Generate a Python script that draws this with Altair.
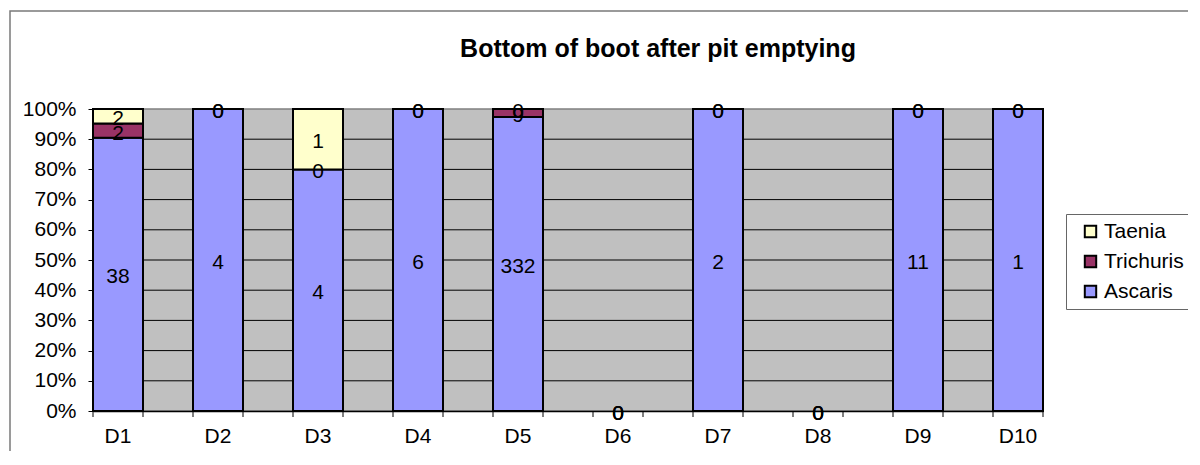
import altair as alt
import pandas as pd

categories = ["D1", "D2", "D3", "D4", "D5", "D6", "D7", "D8", "D9", "D10"]
ascaris = [38, 4, 4, 6, 332, 0, 2, 0, 11, 1]
trichuris = [2, 0, 0, 0, 9, 0, 0, 0, 0, 0]
taenia = [2, 0, 1, 0, 0, 0, 0, 0, 0, 0]
series_names = ["Ascaris", "Trichuris", "Taenia"]
series_colors = ["#9999FF", "#993366", "#FFFFCC"]
grid_values = [0.1, 0.2, 0.3, 0.4, 0.5, 0.6, 0.7, 0.8, 0.9]
y_ticks = [0, 0.1, 0.2, 0.3, 0.4, 0.5, 0.6, 0.7, 0.8, 0.9, 1.0]

FONT = "Liberation Sans"
FS = 21

rows = []
for i, cat in enumerate(categories):
    vals = [ascaris[i], trichuris[i], taenia[i]]
    total = sum(vals)
    cum = 0.0
    for name, v in zip(series_names, vals):
        p = v / total if total else 0.0
        y0 = cum
        y1 = cum + p
        rows.append({"cat": cat, "series": name, "value": v,
                     "y0": y0, "y1": y1, "mid": (y0 + y1) / 2})
        cum = y1
df = pd.DataFrame(rows)
grid_df = pd.DataFrame({"g": grid_values})
tick_df = pd.DataFrame({"cat": categories})
border_df = pd.DataFrame({"a": [0]})

xscale = alt.Scale(domain=categories, paddingInner=0.5, paddingOuter=0)
yscale = alt.Scale(domain=[0, 1], nice=False)

y_axis = alt.Axis(title=None, values=y_ticks, format=".0%", grid=False,
                  labelOverlap=False, tickCount=11,
                  tickSize=5, tickColor="#000000", labelFont=FONT,
                  labelFontSize=FS, labelColor="#000000", labelPadding=12,
                  domainColor="#000000", domainWidth=1.5)

legend_order = ["Taenia", "Trichuris", "Ascaris"]
color_scale = alt.Scale(domain=legend_order,
                        range=[series_colors[2], series_colors[1], series_colors[0]])

border = alt.Chart(border_df).mark_rect(
    fill=None, stroke="#7a7a7a", strokeWidth=1.5, clip=False
).encode(x=alt.value(-83), x2=alt.value(3000), y=alt.value(-98), y2=alt.value(3000))

grid = alt.Chart(grid_df).mark_rule(color="#000000", strokeWidth=1).encode(
    y=alt.Y("g:Q", scale=yscale, axis=y_axis)
)

bars = alt.Chart(df).transform_filter("datum.value > 0").mark_bar(
    stroke="#000000", strokeWidth=2
).encode(
    x=alt.X("cat:N", scale=xscale, sort=categories,
            axis=alt.Axis(title=None, ticks=False, tickSize=0, labelAngle=0,
                          labelFont=FONT, labelFontSize=FS, labelColor="#000000",
                          labelPadding=14, domainColor="#000000", domainWidth=1.5)),
    y=alt.Y("y0:Q", scale=yscale, axis=y_axis),
    y2="y1:Q",
    color=alt.Color("series:N", scale=color_scale,
                    legend=alt.Legend(title=None, orient="none", legendX=973, legendY=105,
                                      symbolType="square", symbolSize=130,
                                      symbolStrokeColor="#000000", symbolStrokeWidth=2,
                                      labelFont=FONT, labelFontSize=FS, labelColor="#000000",
                                      labelOffset=3, rowPadding=8,
                                      padding=7, strokeColor="#666666", fillColor="#FFFFFF",
                                      symbolOffset=7)),
)

ticks_start = alt.Chart(tick_df).mark_rule(color="#000000", strokeWidth=1).encode(
    x=alt.X("cat:N", scale=xscale, sort=categories, bandPosition=0),
    y=alt.value(302), y2=alt.value(308)
)
ticks_end = alt.Chart(tick_df).mark_rule(color="#000000", strokeWidth=1).encode(
    x=alt.X("cat:N", scale=xscale, sort=categories, bandPosition=1),
    y=alt.value(302), y2=alt.value(308)
)

labels = alt.Chart(df).mark_text(
    font=FONT, fontSize=FS, color="#000000", baseline="middle", dy=3
).encode(
    x=alt.X("cat:N", scale=xscale, sort=categories),
    y=alt.Y("mid:Q", scale=yscale, axis=y_axis),
    text="value:Q",
)

chart = alt.layer(border, grid, bars, ticks_start, ticks_end, labels).properties(
    width=950, height=302,
    title=alt.TitleParams("Bottom of boot after pit emptying", font=FONT, fontSize=25,
                          fontWeight="bold", color="#000000", dx=90, offset=-52),
    autosize=alt.AutoSizeParams(type="none"),
    padding={"left": 85, "top": 101, "right": 145, "bottom": 40},
).configure_view(fill="#C0C0C0", stroke="#808080", strokeWidth=1.5)

chart.save("out.html", embed_options={"renderer": "svg", "actions": False})
